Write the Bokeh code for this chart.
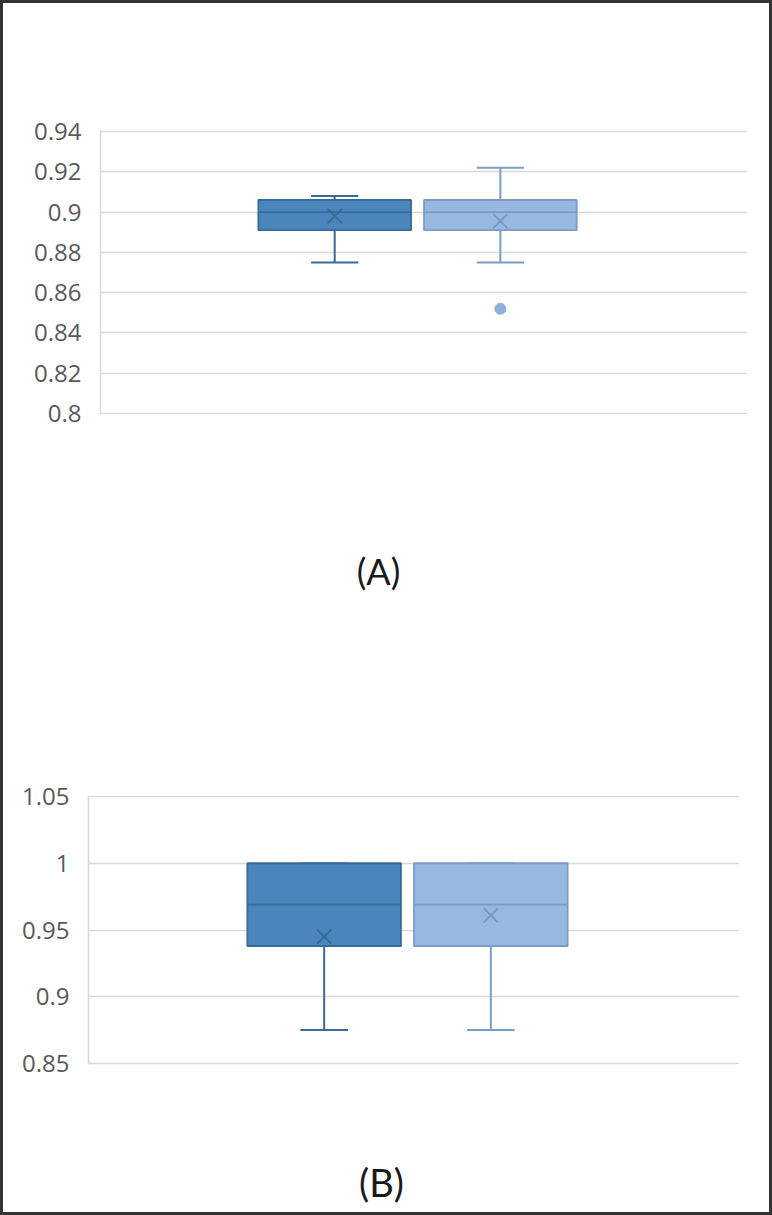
from bokeh.plotting import figure
from bokeh.models import FactorRange, Range1d, FixedTicker, Label, ColumnDataSource
from bokeh.transform import dodge
from bokeh.layouts import column
from bokeh.embed import file_html
from bokeh.resources import INLINE

# ---------------- data ----------------
categories = ["1"]
series_names = ["Series 1", "Series 2"]

# Chart (A)
a_lower = [0.875, 0.875]
a_q1 = [0.891, 0.891]
a_median = [0.900, 0.900]
a_q3 = [0.906, 0.906]
a_upper = [0.908, 0.922]
a_mean = [0.898, 0.8955]
a_outlier_series = ["Series 2"]
a_outliers = [0.852]
a_ticks = [0.8, 0.82, 0.84, 0.86, 0.88, 0.9, 0.92, 0.94]
a_tick_labels = ["0.8", "0.82", "0.84", "0.86", "0.88", "0.9", "0.92", "0.94"]

# Chart (B)
b_lower = [0.875, 0.875]
b_q1 = [0.938, 0.938]
b_median = [0.969, 0.969]
b_q3 = [1.0, 1.0]
b_upper = [1.0, 1.0]
b_mean = [0.945, 0.961]
b_outlier_series = []
b_outliers = []
b_ticks = [0.85, 0.9, 0.95, 1.0, 1.05]
b_tick_labels = ["0.85", "0.9", "0.95", "1", "1.05"]

panel_labels = ["(A)", "(B)"]

# ---------------- style ----------------
fills = ["#4a85bc", "#97b9e0"]
lines = ["#3b6b99", "#7b9cc5"]
mean_colors = ["#36628e", "#6f8fb8"]
offsets = [-0.138, 0.118]
box_w = 0.236
cap_w = 0.073
FONT = "Open Sans"
GRID = "#d9d9d9"
W = 766


def make_chart(yr, pad, ticks, tick_labels, lower, q1, med, q3, upper, mean,
               out_series, out_vals, height, left, right, top, bottom):
    p = figure(width=W, height=height, x_range=FactorRange(factors=categories),
               y_range=Range1d(yr[0] - pad, yr[1] + pad), output_backend="svg",
               toolbar_location=None,
               min_border_left=left, min_border_right=right,
               min_border_top=top, min_border_bottom=bottom)
    p.frame_align = False
    p.xaxis.visible = False
    p.xgrid.visible = False
    p.outline_line_color = None
    p.background_fill_color = "white"
    p.border_fill_color = "white"
    ax = p.yaxis[0]
    ax.ticker = FixedTicker(ticks=ticks)
    ax.major_label_overrides = dict(zip(ticks, tick_labels))
    ax.axis_line_color = GRID
    ax.axis_line_width = 1.6
    ax.major_tick_line_color = None
    ax.minor_tick_line_color = None
    ax.major_tick_out = 0
    ax.major_tick_in = 0
    ax.major_label_standoff = 19
    ax.major_label_text_font = FONT
    ax.major_label_text_font_size = "24px"
    ax.major_label_text_color = "#595959"
    p.ygrid.ticker = FixedTicker(ticks=ticks)
    p.ygrid.grid_line_color = GRID
    p.ygrid.grid_line_width = 1.6

    for i, name in enumerate(series_names):
        src = ColumnDataSource(dict(cat=[categories[0]], lower=[lower[i]], q1=[q1[i]],
                                    med=[med[i]], q3=[q3[i]], upper=[upper[i]],
                                    mean=[mean[i]]))
        xc = dodge("cat", offsets[i], range=p.x_range)
        xl = dodge("cat", offsets[i] - cap_w / 2, range=p.x_range)
        xr = dodge("cat", offsets[i] + cap_w / 2, range=p.x_range)
        bl = dodge("cat", offsets[i] - box_w / 2, range=p.x_range)
        br = dodge("cat", offsets[i] + box_w / 2, range=p.x_range)
        for y0, y1 in (("q3", "upper"), ("lower", "q1")):
            p.segment(x0=xc, y0=y0, x1=xc, y1=y1, source=src, line_color=lines[i], line_width=2)
        for yy in ("upper", "lower"):
            p.segment(x0=xl, y0=yy, x1=xr, y1=yy, source=src, line_color=lines[i], line_width=2)
        p.vbar(x=xc, width=box_w, bottom="q1", top="q3", source=src,
               fill_color=fills[i], line_color=lines[i], line_width=1.8)
        p.segment(x0=bl, y0="med", x1=br, y1="med", source=src, line_color=lines[i], line_width=1.8)
        p.scatter(x=xc, y="mean", source=src, marker="x", size=20,
                  line_color=mean_colors[i], line_width=1.8, line_alpha=0.8)
        outs = [v for s, v in zip(out_series, out_vals) if s == name]
        if outs:
            osrc = ColumnDataSource(dict(cat=[categories[0]] * len(outs), v=outs))
            p.scatter(x=xc, y="v", source=osrc, marker="circle", size=11,
                      fill_color="#8db0dc", line_color="#8db0dc")
    return p


def make_label(text, height, sx, size):
    p = figure(width=W, height=height, x_range=Range1d(0, 1), y_range=Range1d(0, 1),
               output_backend="svg", toolbar_location=None,
               x_axis_type=None, y_axis_type=None,
               min_border_left=0, min_border_right=0, min_border_top=0, min_border_bottom=0)
    p.frame_align = False
    p.outline_line_color = None
    p.grid.visible = False
    p.add_layout(Label(text=text, x=sx, y=height / 2, x_units="screen", y_units="screen",
                       text_align="center", text_baseline="middle",
                       text_font="Lato", text_font_size=size, text_color="#1a1a1a"))
    return p


p1 = make_chart((0.8, 0.94), 0.0005, a_ticks, a_tick_labels, a_lower, a_q1, a_median,
                a_q3, a_upper, a_mean, a_outlier_series, a_outliers,
                height=511, left=97, right=22, top=127, bottom=100)
l1 = make_label(panel_labels[0], 112, 375, "36px")
p2 = make_chart((0.85, 1.05), 0.00075, b_ticks, b_tick_labels, b_lower, b_q1, b_median,
                b_q3, b_upper, b_mean, b_outlier_series, b_outliers,
                height=524, left=85, right=30, top=169, bottom=86)
l2 = make_label(panel_labels[1], 62, 378, "38px")

layout = column(p1, l1, p2, l2, styles={"border": "3px solid #333333", "background": "white"})

open("out.html", "w").write(file_html(layout, INLINE))
